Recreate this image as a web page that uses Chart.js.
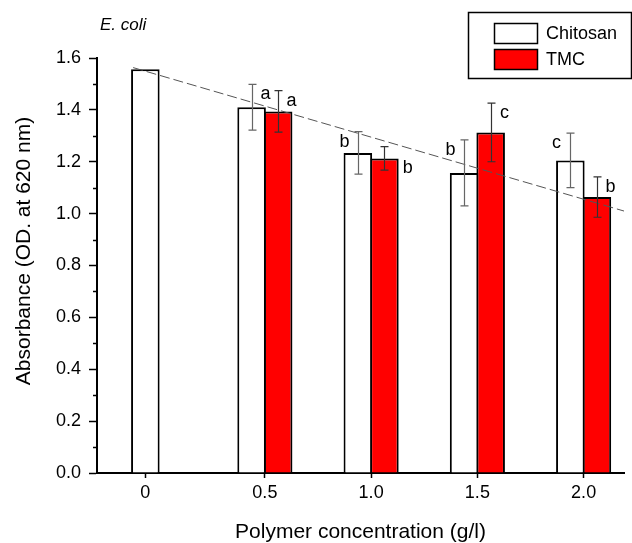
<!DOCTYPE html>
<html>
<head>
<meta charset="utf-8">
<script src="https://cdn.jsdelivr.net/npm/chart.js@4"></script>
<style>
html, body { margin: 0; padding: 0; background: #fff; }
canvas { display: block; }
</style>
</head>
<body>
<canvas id="chart" width="632" height="543"></canvas>
<script>
// Data
const concentrations = [0, 0.5, 1.0, 1.5, 2.0];
const xTickLabels = ['0', '0.5', '1.0', '1.5', '2.0'];
const chitosanMean = [1.557, 1.41, 1.234, 1.157, 1.205];
const chitosanErr = [0, 0.088, 0.082, 0.127, 0.105];
const chitosanLetters = ['', 'a', 'b', 'b', 'c'];
const tmcMean = [null, 1.394, 1.213, 1.313, 1.064];
const tmcErr = [null, 0.08, 0.045, 0.113, 0.078];
const tmcLetters = ['', 'a', 'b', 'c', 'b'];
const trendX = [-0.12, 2.19];
const trendY = [1.563, 1.010];

const FONT = "'Liberation Sans', Arial, Helvetica, sans-serif";
const CAT_PCT = 0.5;
const STEP = 0.5;
const Y_TITLE = 'Absorbance (OD. at 620 nm)';

Chart.defaults.font.family = FONT;
Chart.defaults.font.size = 18;
Chart.defaults.color = '#000';

// error bars + significance letters
const errorBars = {
    id: 'errorBars',
    afterDatasetsDraw(chart) {
        const ctx = chart.ctx;
        const yScale = chart.scales.y;
        const sets = [
            [0, chitosanMean, chitosanErr, chitosanLetters, '#666'],
            [1, tmcMean, tmcErr, tmcLetters, '#333']
        ];
        ctx.save();
        sets.forEach(([di, means, errs, letters, col]) => {
            const meta = chart.getDatasetMeta(di);
            meta.data.forEach((bar, i) => {
                if (means[i] == null) return;
                const x = Math.round(bar.x) + 0.5;
                const top = yScale.getPixelForValue(means[i] + errs[i]);
                const bot = yScale.getPixelForValue(means[i] - errs[i]);
                if (errs[i] > 0) {
                    ctx.strokeStyle = col;
                    ctx.lineWidth = 1.2;
                    ctx.beginPath();
                    ctx.moveTo(x, top); ctx.lineTo(x, bot);
                    ctx.moveTo(x - 4, top); ctx.lineTo(x + 4, top);
                    ctx.moveTo(x - 4, bot); ctx.lineTo(x + 4, bot);
                    ctx.stroke();
                }
                if (letters[i]) {
                    // TMC letters and the first chitosan pair sit right of the bar, the rest left
                    let dx = (di === 1 || i === 1) ? 13 : -14;
                    let ly = top + 10;
                    // short error bar: letter goes beside the bar top instead
                    if (errs[i] < 0.06) {
                        dx = bar.width / 2 + 9;
                        ly = bar.y + 10;
                    }
                    ctx.fillStyle = '#000';
                    ctx.font = '18px ' + FONT;
                    ctx.textAlign = 'center';
                    ctx.textBaseline = 'middle';
                    ctx.fillText(letters[i], x + dx, ly);
                }
            });
        });
        ctx.restore();
    }
};

// minor y ticks, y title, legend box and panel title
const decorations = {
    id: 'decorations',
    afterDraw(chart) {
        const ctx = chart.ctx;
        const yScale = chart.scales.y;
        const left = chart.chartArea.left;
        ctx.save();
        ctx.strokeStyle = '#000';
        ctx.lineWidth = 1.5;
        ctx.beginPath();
        for (let v = 0.1; v < 1.6; v += 0.2) {
            const py = Math.round(yScale.getPixelForValue(v)) + 0.5;
            ctx.moveTo(left - 4, py);
            ctx.lineTo(left, py);
        }
        ctx.stroke();

        // y axis title (sits a little above the axis middle in the original)
        ctx.save();
        ctx.translate(24, 251);
        ctx.rotate(-Math.PI / 2);
        ctx.fillStyle = '#000';
        ctx.font = '21px ' + FONT;
        ctx.textAlign = 'center';
        ctx.textBaseline = 'middle';
        ctx.fillText(Y_TITLE, 0, 0);
        ctx.restore();

        // legend
        ctx.lineWidth = 1.5;
        ctx.strokeRect(468.5, 12.5, 163, 66);
        const ds = chart.data.datasets;
        [0, 1].forEach((k) => {
            const y0 = 23 + k * 26;
            ctx.fillStyle = ds[k].backgroundColor;
            ctx.fillRect(494, y0, 44, 21);
            ctx.strokeRect(494.5, y0 + 0.5, 43, 20);
            ctx.fillStyle = '#000';
            ctx.font = '18px ' + FONT;
            ctx.textAlign = 'left';
            ctx.textBaseline = 'middle';
            ctx.fillText(ds[k].label, 546, y0 + 11);
        });

        ctx.font = 'italic 17px ' + FONT;
        ctx.textAlign = 'left';
        ctx.textBaseline = 'middle';
        ctx.fillText('E. coli', 100, 25);
        ctx.restore();
    }
};

new Chart(document.getElementById('chart'), {
    type: 'bar',
    data: {
        datasets: [
            {
                label: 'Chitosan',
                data: concentrations.map((c, i) => ({ x: c, y: chitosanMean[i] })),
                backgroundColor: '#ffffff',
                borderColor: '#000',
                borderWidth: 2,
                order: 1
            },
            {
                label: 'TMC',
                data: concentrations.map((c, i) => ({ x: c, y: tmcMean[i] })),
                backgroundColor: '#ff0000',
                borderColor: '#000',
                borderWidth: 2,
                order: 1
            },
            {
                type: 'line',
                label: 'trend',
                data: trendX.map((x, i) => ({ x: x, y: trendY[i] })),
                borderColor: '#555',
                borderWidth: 1,
                borderDash: [10, 4],
                pointRadius: 0,
                fill: false,
                order: 0
            }
        ]
    },
    options: {
        responsive: false,
        animation: false,
        categoryPercentage: CAT_PCT,
        // slight overlap so neighbouring bars share one outline
        barPercentage: 1.075,
        layout: { padding: { top: 58, right: 8, left: 0, bottom: 0 } },
        plugins: {
            legend: { display: false },
            tooltip: { enabled: false }
        },
        scales: {
            x: {
                type: 'linear',
                offset: false,
                min: -0.29,
                max: 2.19,
                afterBuildTicks: (s) => {
                    // label for 0 sits under the lone chitosan bar
                    s.ticks = concentrations.map((c, i) => ({
                        value: i === 0 ? c - STEP * CAT_PCT / 4 : c
                    }));
                },
                afterFit: (s) => { s.height = 70; },
                ticks: {
                    autoSkip: false,
                    maxRotation: 0,
                    padding: 4,
                    callback: (v, i) => xTickLabels[i]
                },
                grid: {
                    offset: false,
                    drawOnChartArea: false,
                    tickLength: 5,
                    tickWidth: 1.5,
                    tickColor: '#000'
                },
                border: { color: '#000', width: 2 },
                title: {
                    display: true,
                    text: 'Polymer concentration (g/l)',
                    font: { size: 21, lineHeight: 1 },
                    padding: { top: 0, bottom: 0 }
                }
            },
            y: {
                min: 0,
                max: 1.6,
                afterFit: (s) => { s.width = 97; },
                ticks: {
                    stepSize: 0.2,
                    padding: 8,
                    callback: (v) => v.toFixed(1)
                },
                grid: {
                    drawOnChartArea: false,
                    tickLength: 8,
                    tickWidth: 1.5,
                    tickColor: '#000'
                },
                border: { color: '#000', width: 2 },
                title: { display: false }
            }
        }
    },
    plugins: [errorBars, decorations]
});
</script>
</body>
</html>
